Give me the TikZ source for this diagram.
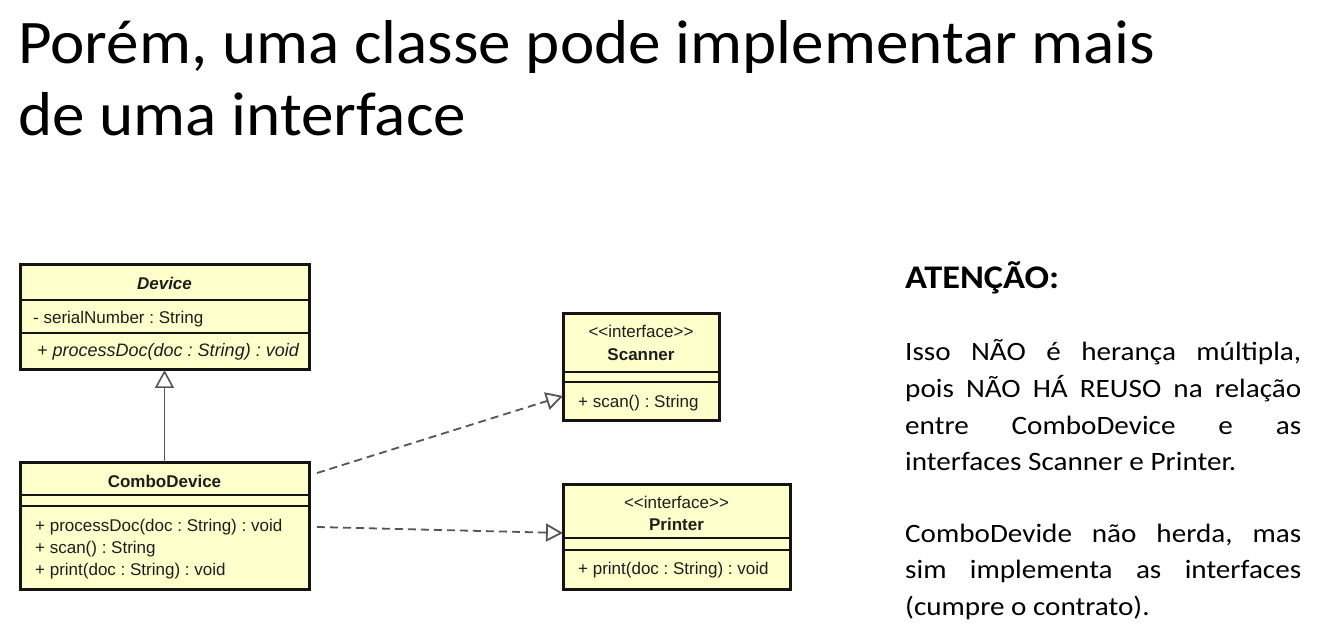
\documentclass[tikz,border=0pt]{standalone}
\usepackage{fontspec}
\setmainfont{Carlito}
\newfontfamily\umlfont{Liberation Sans}
\newfontfamily\headfont[FakeStretch=1.05]{Carlito}
\newfontfamily\notefont[FakeStretch=1.1]{Carlito}
\usetikzlibrary{arrows.meta,calc}
\frenchspacing

\definecolor{classfill}{RGB}{255,255,204}
\definecolor{classline}{RGB}{20,20,20}
\definecolor{linkgray}{RGB}{85,85,85}
\definecolor{umltext}{RGB}{30,30,30}

\tikzset{
  classbox/.style={draw=classline, line width=3pt, fill=classfill, rectangle,
    inner sep=0pt, outer sep=0pt, anchor=north west},
  sepline/.style={draw=classline, line width=1.4pt},
  umllabel/.style={font=\umlfont\fontsize{17}{20}\selectfont, text=umltext,
    inner sep=0pt, anchor=base west},
  umlname/.style={font=\umlfont\bfseries\fontsize{17}{20}\selectfont, text=umltext,
    inner sep=0pt, anchor=base},
  umlstereo/.style={font=\umlfont\fontsize{17}{20}\selectfont, text=umltext,
    inner sep=0pt, anchor=base},
  generalization/.style={draw=linkgray, line width=1.6pt,
    -{Triangle[open, length=18pt, width=19pt, fill=white]}},
  realization/.style={draw=linkgray, line width=1.8pt, dash pattern=on 8pt off 5pt,
    -{Triangle[open, length=17pt, width=18pt, fill=white]}},
  titletext/.style={font=\headfont\fontsize{62}{74}\selectfont, inner sep=0pt, anchor=base west},
  notetext/.style={font=\notefont\fontsize{26.5}{36}\selectfont, inner sep=0pt, anchor=base west},
}

\newcommand{\justline}[1]{\makebox[396pt][s]{#1}}

\begin{document}
\begin{tikzpicture}[x=1pt, y=-1pt]
  \useasboundingbox (0,0) rectangle (1326,628);

  % heading
  \node[titletext] (title1) at (18,64) {Porém, uma classe pode implementar mais};
  \node[titletext] (title2) at (18,136) {de uma interface};

  % class Device
  \node[classbox, minimum width=289pt, minimum height=105pt] (device) at (20,265) {};
  \draw[sepline] ($(device.north west)+(0,35)$) -- ($(device.north east)+(0,35)$);
  \draw[sepline] ($(device.north west)+(0,68)$) -- ($(device.north east)+(0,68)$);
  \draw[draw=classline, line width=3pt] (device.north west) rectangle (device.south east);
  \node[umlname, font=\umlfont\bfseries\itshape\fontsize{17}{20}\selectfont] (devname) at (164.5,290) {Device};
  \node[umllabel] (devattr) at (33,324) {- serialNumber : String};
  \node[umllabel, font=\umlfont\itshape\fontsize{18}{20}\selectfont] (devop) at (37,357) {+ processDoc(doc : String) : void};

  % class ComboDevice
  \node[classbox, minimum width=289pt, minimum height=127pt] (combo) at (20,462) {};
  \draw[sepline] ($(combo.north west)+(0,33)$) -- ($(combo.north east)+(0,33)$);
  \draw[sepline] ($(combo.north west)+(0,44)$) -- ($(combo.north east)+(0,44)$);
  \draw[draw=classline, line width=3pt] (combo.north west) rectangle (combo.south east);
  \node[umlname] (comboname) at (164.5,487) {ComboDevice};
  \node[umllabel] (comboop1) at (35,531) {+ processDoc(doc : String) : void};
  \node[umllabel] (comboop2) at (35,553) {+ scan() : String};
  \node[umllabel] (comboop3) at (35,575) {+ print(doc : String) : void};

  % interface Scanner
  \node[classbox, minimum width=156pt, minimum height=106pt] (scanner) at (563,314) {};
  \draw[sepline] ($(scanner.north west)+(0,58)$) -- ($(scanner.north east)+(0,58)$);
  \draw[sepline] ($(scanner.north west)+(0,68)$) -- ($(scanner.north east)+(0,68)$);
  \draw[draw=classline, line width=3pt] (scanner.north west) rectangle (scanner.south east);
  \node[umlstereo] (scanstereo) at (641,338) {\textless\textless interface\textgreater\textgreater};
  \node[umlname] (scanname) at (641,361) {Scanner};
  \node[umllabel] (scanop) at (578,407) {+ scan() : String};

  % interface Printer
  \node[classbox, minimum width=227pt, minimum height=105pt] (printer) at (563,484) {};
  \draw[sepline] ($(printer.north west)+(0,54)$) -- ($(printer.north east)+(0,54)$);
  \draw[sepline] ($(printer.north west)+(0,66)$) -- ($(printer.north east)+(0,66)$);
  \draw[draw=classline, line width=3pt] (printer.north west) rectangle (printer.south east);
  \node[umlstereo] (printstereo) at (676.5,508) {\textless\textless interface\textgreater\textgreater};
  \node[umlname] (printname) at (676.5,530) {Printer};
  \node[umllabel] (printop) at (578,574) {+ print(doc : String) : void};

  % relations
  \draw[generalization] (combo.north) -- (device.south);
  \draw[realization] ($(combo.north east)+(8,11)$) -- ($(scanner.north west)+(0,82)$);
  \draw[realization] ($(combo.north east)+(8,65)$) -- ($(printer.north west)+(0,49)$);

  % note on the right
  \node[notetext, font=\notefont\bfseries\fontsize{33}{36}\selectfont] (attn) at (905,289) {ATENÇÃO:};
  \node[notetext] (n1) at (905,361) {\justline{Isso NÃO é herança múltipla,}};
  \node[notetext] (n2) at (905,397.5) {\justline{pois NÃO HÁ REUSO na relação}};
  \node[notetext] (n3) at (905,434) {\justline{entre ComboDevice e as}};
  \node[notetext] (n4) at (905,470.5) {interfaces Scanner e Printer.};
  \node[notetext] (n5) at (905,542) {\justline{ComboDevide não herda, mas}};
  \node[notetext] (n6) at (905,578.5) {\justline{sim implementa as interfaces}};
  \node[notetext] (n7) at (905,615) {(cumpre o contrato).};
\end{tikzpicture}
\end{document}
